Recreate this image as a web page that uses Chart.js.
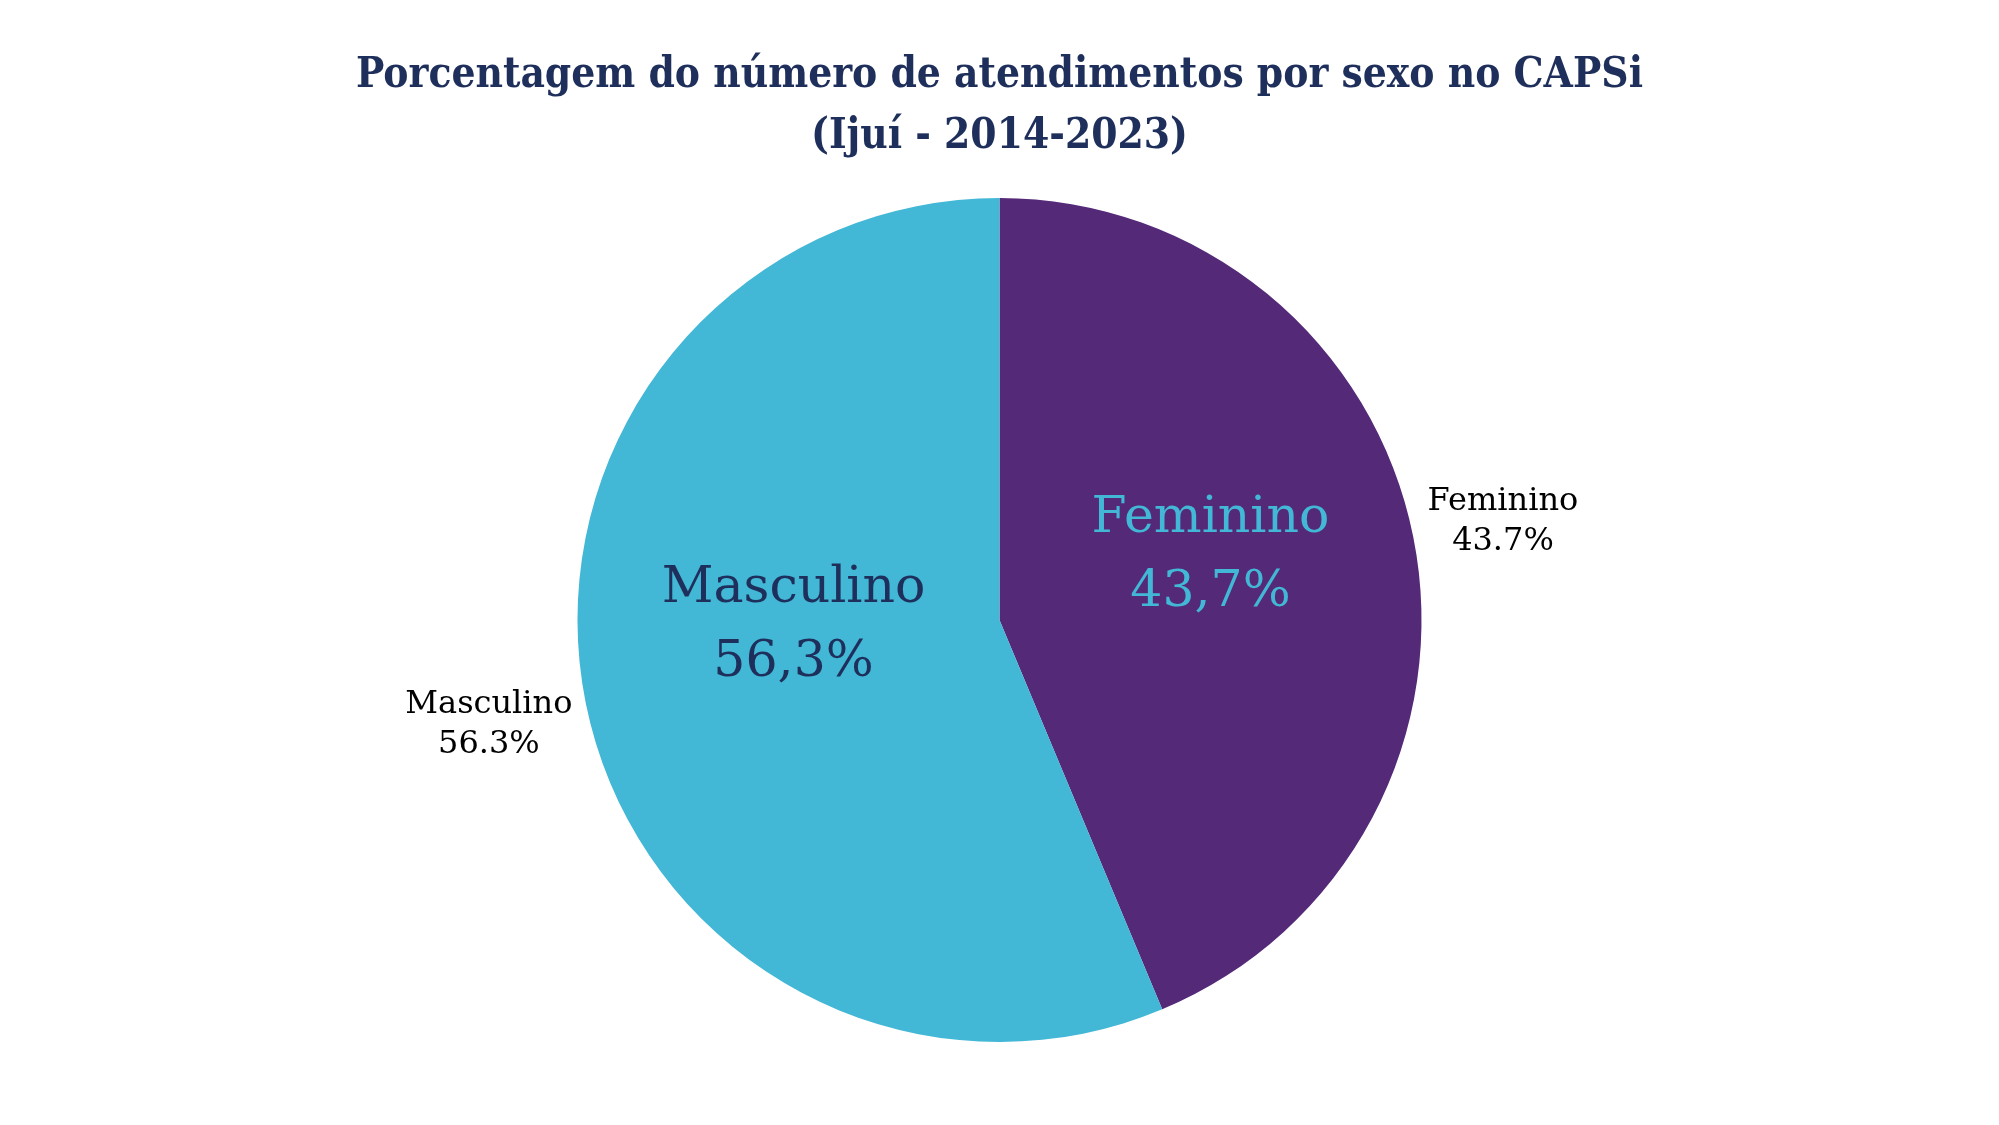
<!DOCTYPE html>
<html>
<head>
<meta charset="utf-8">
<script src="https://cdn.jsdelivr.net/npm/chart.js@4.4.1/dist/chart.umd.min.js"></script>
<style>
html,body{margin:0;padding:0;background:#fff;}
#wrap{width:1999px;height:1125px;position:relative;}
</style>
</head>
<body>
<div id="wrap"><canvas id="c"></canvas></div>
<script>
const categories = ["Feminino", "Masculino"];
const values = [43.7, 56.3];
const insideLabels = ["43,7%", "56,3%"];
const outsideLabels = ["43.7%", "56.3%"];
const titleLines = ["Porcentagem do número de atendimentos por sexo no CAPSi", "(Ijuí - 2014-2023)"];

const colors = ["#542978", "#42B7D6"];
const insideTextColors = ["#42B7D6", "#1F2F5B"];
const insideOffsets = [[0.50, -0.152], [-0.488, 0.0145]];
const outsideOffsets = [[1.193, -0.234], [-1.210, 0.248]];

const labelPlugin = {
  id: 'sliceLabels',
  afterDatasetsDraw(chart) {
    const ctx = chart.ctx;
    const meta = chart.getDatasetMeta(0);
    ctx.save();
    ctx.textAlign = 'center';
    ctx.textBaseline = 'middle';
    meta.data.forEach((arc, i) => {
      const r = arc.outerRadius;
      const [fx, fy] = insideOffsets[i];
      const ix = arc.x + r * fx, iy = arc.y + r * fy;
      ctx.fillStyle = insideTextColors[i];
      ctx.font = '50.5px "DejaVu Serif"';
      ctx.fillText(categories[i], ix, iy - 37);
      ctx.fillText(insideLabels[i], ix, iy + 37);
      const [gx, gy] = outsideOffsets[i];
      const ox = arc.x + r * gx, oy = arc.y + r * gy;
      ctx.fillStyle = '#000';
      ctx.font = '32px "DejaVu Serif"';
      ctx.fillText(categories[i], ox, oy - 20);
      ctx.fillText(outsideLabels[i], ox, oy + 20);
    });
    ctx.restore();
  }
};

new Chart(document.getElementById('c'), {
  type: 'pie',
  data: {
    labels: categories,
    datasets: [{
      data: values,
      backgroundColor: colors,
      borderWidth: 0,
      hoverOffset: 0,
      offset: 0
    }]
  },
  options: {
    responsive: true,
    maintainAspectRatio: false,
    animation: false,
    events: [],
    layout: { padding: { top: 0, bottom: 83, left: 0, right: 0 } },
    plugins: {
      legend: { display: false },
      tooltip: { enabled: false },
      title: {
        display: true,
        text: titleLines,
        color: '#1F2F5B',
        font: { family: '"DejaVu Serif Condensed"', size: 42, weight: 'bold', lineHeight: 1.452 },
        padding: { top: 46, bottom: 30 }
      }
    }
  },
  plugins: [labelPlugin]
});
</script>
</body>
</html>
